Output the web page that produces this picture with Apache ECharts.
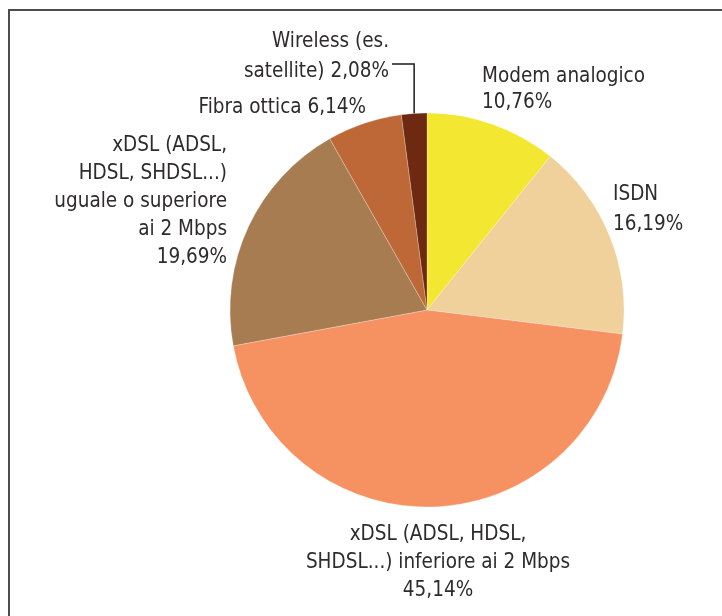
<!DOCTYPE html>
<html>
<head>
<meta charset="utf-8">
<style>
  html, body { margin: 0; padding: 0; background: #ffffff; }
  #chart { width: 722px; height: 616px; }
</style>
<script src="https://cdn.jsdelivr.net/npm/echarts@6/dist/echarts.min.js"></script>
</head>
<body>
<div id="chart"></div>
<script>
// ---- data ----
const categories = [
  'Modem analogico',
  'ISDN',
  'xDSL (ADSL, HDSL, SHDSL...) inferiore ai 2 Mbps',
  'xDSL (ADSL, HDSL, SHDSL...) uguale o superiore ai 2 Mbps',
  'Fibra ottica',
  'Wireless (es. satellite)'
];
const values = [10.76, 16.19, 45.14, 19.69, 6.14, 2.08];
// label text as wrapped in the reference (the percentage is appended from values)
const labelNames = [
  'Modem analogico\n',
  'ISDN\n',
  'xDSL (ADSL, HDSL,\nSHDSL...) inferiore ai 2 Mbps\n',
  'xDSL (ADSL,\nHDSL, SHDSL...)\nuguale o superiore\nai 2 Mbps\n',
  'Fibra ottica ',
  'Wireless (es.\nsatellite) '
];
const colors = ['#F3E731', '#F0D09B', '#F69262', '#A87C51', '#BE6837', '#6D2A10'];

// ---- layout / style (not data) ----
const labelPos = [
  { x: 482, y: 90,  align: 'left',   lh: 26 },
  { x: 613, y: 210, align: 'left',   lh: 30 },
  { x: 438, y: 563, align: 'center', lh: 28 },
  { x: 227, y: 202, align: 'right',  lh: 28 },
  { x: 366, y: 108, align: 'right',  lh: 28 },
  { x: 389, y: 57,  align: 'right',  lh: 30 }
];
const leaderBendY = 64;
const leaderEndX = 392;

function pct(v) { return v.toFixed(2).replace('.', ',') + '%'; }

const FONT = "'Liberation Sans Narrow', 'DejaVu Sans Condensed', sans-serif";

const chart = echarts.init(document.getElementById('chart'), null, { renderer: 'canvas' });

const seriesData = categories.map((name, i) => ({
  name: name,
  value: values[i],
  itemStyle: { color: colors[i] },
  label: {
    formatter: labelNames[i] + pct(values[i]),
    align: labelPos[i].align,
    lineHeight: labelPos[i].lh
  },
  labelLine: { show: i === 5 }
}));

chart.setOption({
  backgroundColor: '#ffffff',
  animation: false,
  graphic: [{
    type: 'rect',
    z: -1,
    shape: { x: 9, y: 10, width: 760, height: 700 },
    style: { fill: 'none', stroke: '#4d4d4d', lineWidth: 2 }
  }],
  series: [{
    type: 'pie',
    center: [427, 310],
    radius: 197,
    startAngle: 90,
    clockwise: true,
    avoidLabelOverlap: false,
    itemStyle: { borderColor: 'rgba(255,255,255,0.5)', borderWidth: 0.5 },
    label: {
      show: true,
      position: 'outside',
      color: '#2e2b2c',
      fontFamily: FONT,
      fontSize: 20.5
    },
    labelLine: {
      lineStyle: { color: '#1a1a1a', width: 1.5 },
      length: 20,
      length2: 10
    },
    labelLayout: function (params) {
      const p = labelPos[params.dataIndex];
      const out = { x: p.x, y: p.y, align: p.align, verticalAlign: 'middle' };
      if (params.dataIndex === 5 && params.labelLinePoints) {
        const s = params.labelLinePoints[0];
        out.labelLinePoints = [[s[0], s[1]], [s[0], leaderBendY], [leaderEndX, leaderBendY]];
      }
      return out;
    },
    emphasis: { disabled: true },
    data: seriesData
  }]
});
</script>
</body>
</html>
